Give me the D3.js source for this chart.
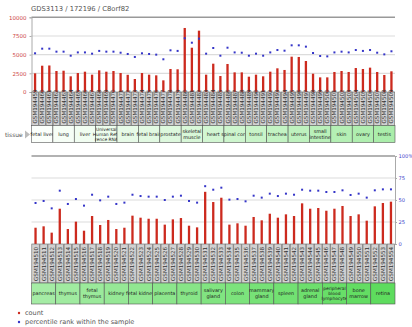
<!DOCTYPE html>
<html><head><meta charset="utf-8">
<script src="https://cdn.jsdelivr.net/npm/d3@7"></script>
<style>body{margin:0;background:#fff}svg{display:block;font-family:"DejaVu Sans",sans-serif}</style>
</head><body>
<svg id="c" width="412" height="327"></svg>
<script>
const title = "GDS3113 / 172196 / C8orf82";
const samplesTop = d3.range(459, 510).map(n => "GSM194" + n);
const samplesBottom = d3.range(510, 555).map(n => "GSM194" + n);
const countTop = [2500,3520,3550,2810,2850,2100,2540,2720,2320,2900,2720,2810,2540,2300,1740,2540,2320,2230,1560,3080,3040,8570,5930,8210,2320,3790,2140,3750,2630,2630,2050,2320,2100,2720,3170,2950,4730,4690,4150,2450,1960,1960,2680,2810,2680,3210,3080,3260,2680,2280,2770];
const pctTop = [51.8,58,58,54,54,48.6,53,53,51.3,55,54,54,52.6,50.9,46.9,51.8,50.9,50,43.8,55.8,55,71.9,66,71.4,51.3,58.9,48.6,59.3,53,52.6,48.6,51.3,48.6,53,56.2,55.3,62.5,62.5,60.7,52.2,48.2,47.7,53,54,53,56.2,55,56.2,52.6,50.4,54.5];
const countBottom = [1850,2010,1290,4010,1700,2540,1510,3180,2160,2730,1700,1850,3220,2990,2870,2870,2200,2800,2950,2080,1890,5930,4770,5260,2200,2350,2080,3070,2690,3440,2990,3370,3180,4620,4010,4090,3780,4010,4320,3180,3370,2650,4280,4660,4810];
const pctBottom = [46.6,48.9,40.5,60.6,45.5,51.1,43.6,56,49.6,53.8,45.5,47,56,54.5,53.8,53.8,50,53.8,54.9,48.9,47,65.7,61.7,64,50.4,51.1,48.5,54.9,52.7,57.2,54.5,57.2,56,61.7,60.6,60.6,59.1,59.1,61,55.7,57.2,52.7,61,62.1,62.1];
const tissuesTop = ["fetal liver","lung","liver","Universal|Human Refe|rence RNA","brain","fetal brain","prostate","skeletal|muscle","heart","spinal cord","tonsil","trachea","uterus","small|intestine","skin","ovary","testis"];
const tissuesBottom = ["pancreas","thymus","fetal|thymus","kidney","fetal kidney","placenta","thyroid","salivary|gland","colon","mammary|gland","spleen","adrenal|gland","peripheral|blood|lymphocyte","bone|marrow","retina"];
const countTicks = [0,2500,5000,7500,10000];
const pctTicks = [0,25,50,75,100];
const pctTickLabels = ["0","25","50","75","100%"];
const legendItems = [{label:"count",color:"#cc2a1e"},{label:"percentile rank within the sample",color:"#3535c8"}];

const svg = d3.select("#c");
const RED = "#cc2a1e", BLUE = "#3535c8";
const tissueColor = d3.interpolateRgb("#fbfffb", "#5edc5e");
const nTissues = tissuesTop.length + tissuesBottom.length;

svg.append("text").attr("x", 31).attr("y", 11).attr("font-size", 6.8).attr("fill", "#555").text(title);

function panel(opts) {
  const {samples, counts, pcts, tissues, y0, y1, labelBottom, tissueBottom, leftAxis, tissueOffset} = opts;
  const x = d3.scaleBand().domain(samples).range([31.5, 395]).padding(0);
  const yc = d3.scaleLinear().domain([0, 10000]).range([y0, y1]);
  const yp = d3.scaleLinear().domain([0, 100]).range([y0, y1]);
  const g = svg.append("g");
  g.selectAll("line.grid").data([25,50,75]).join("line")
    .attr("x1", 31.5).attr("x2", 395).attr("y1", d => yp(d)).attr("y2", d => yp(d))
    .attr("stroke", "#dcdcdc").attr("stroke-width", 1.2);
  g.append("line").attr("x1", 31.5).attr("x2", 395).attr("y1", y1).attr("y2", y1)
    .attr("stroke", "#999").attr("stroke-width", 1.5);
  if (leftAxis) {
    const ax = g.append("g").attr("transform", `translate(31.5,0)`)
      .call(d3.axisLeft(yc).tickValues(countTicks).tickSize(2).tickFormat(d3.format("d")));
    ax.select(".domain").attr("stroke", "#aaa");
    ax.selectAll(".tick line").attr("stroke", "#aaa");
    ax.selectAll("text").attr("font-size", 5.5).attr("fill", "#cc4444").attr("font-family", "DejaVu Sans");
  } else {
    const ax = g.append("g").attr("transform", `translate(395,0)`)
      .call(d3.axisRight(yp).tickValues(pctTicks).tickSize(2).tickPadding(1.5).tickFormat((d, i) => pctTickLabels[i]));
    ax.select(".domain").attr("stroke", "#aaa");
    ax.selectAll(".tick line").attr("stroke", "#aaa");
    ax.selectAll("text").attr("font-size", 5.2).attr("fill", "#4444cc").attr("font-family", "DejaVu Sans");
  }
  const bw = 2.3;
  g.selectAll("rect.bar").data(samples).join("rect")
    .attr("x", d => x(d) + x.bandwidth()/2 - bw/2).attr("width", bw)
    .attr("y", (d, i) => yc(counts[i])).attr("height", (d, i) => y0 - yc(counts[i]))
    .attr("fill", RED);
  g.selectAll("rect.dot").data(samples).join("rect")
    .attr("x", d => x(d) + x.bandwidth()/2 - 1).attr("y", (d, i) => yp(pcts[i]) - 1)
    .attr("width", 2).attr("height", 2).attr("fill", BLUE);
  const lb = g.selectAll("g.lab").data(samples).join("g")
    .attr("transform", d => `translate(${x(d)},${y0})`);
  lb.append("rect").attr("x", 0.3).attr("y", 0).attr("width", x.bandwidth() - 0.6).attr("height", labelBottom - y0)
    .attr("fill", "#d2d2d2").attr("stroke", "#666").attr("stroke-width", 0.6);
  lb.append("text").attr("transform", `translate(${x.bandwidth()/2 + 2},${labelBottom - y0 - 2}) rotate(-90)`)
    .attr("font-size", 5.6).attr("fill", "#333").text(d => d);
  tissues.forEach((t, i) => {
    const xa = x(samples[i*3]), xb = x(samples[i*3+2]) + x.bandwidth();
    g.append("rect").attr("x", xa).attr("y", labelBottom).attr("width", xb - xa).attr("height", tissueBottom - labelBottom)
      .attr("fill", tissueColor((i + tissueOffset) / (nTissues - 1))).attr("stroke", "#555").attr("stroke-width", 0.6);
    const lines = t.split("|");
    const lh = lines.length > 2 ? 5.2 : 6.4;
    const fs = lines.length > 2 ? 4.4 : 4.9;
    const cy = (labelBottom + tissueBottom) / 2;
    lines.forEach((ln, j) => {
      g.append("text").attr("x", (xa + xb)/2).attr("y", cy + (j - (lines.length - 1)/2) * lh + 1.7)
        .attr("text-anchor", "middle").attr("font-size", fs).attr("fill", "#222").text(ln);
    });
  });
}

panel({samples: samplesTop, counts: countTop, pcts: pctTop, tissues: tissuesTop, y0: 92, y1: 17.3,
  labelBottom: 125.5, tissueBottom: 142.5, leftAxis: true, tissueOffset: 0});
panel({samples: samplesBottom, counts: countBottom, pcts: pctBottom, tissues: tissuesBottom, y0: 244, y1: 156,
  labelBottom: 283, tissueBottom: 304, leftAxis: false, tissueOffset: tissuesTop.length});

svg.append("text").attr("x", 5).attr("y", 136.5).attr("font-size", 6).attr("fill", "#555").text("tissue");
svg.append("path").attr("d", "M25,130.5 L30,134.5 L25,138.5 Z").attr("fill", "#bbb");

const lg = svg.selectAll("g.leg").data(legendItems).join("g")
  .attr("transform", (d, i) => `translate(0,${313 + i*9})`);
lg.append("circle").attr("cx", 19).attr("cy", 0).attr("r", 1.2).attr("fill", d => d.color);
lg.append("text").attr("x", 25).attr("y", 2.3).attr("font-size", 6.5).attr("fill", "#555").text(d => d.label);
</script>
</body></html>
